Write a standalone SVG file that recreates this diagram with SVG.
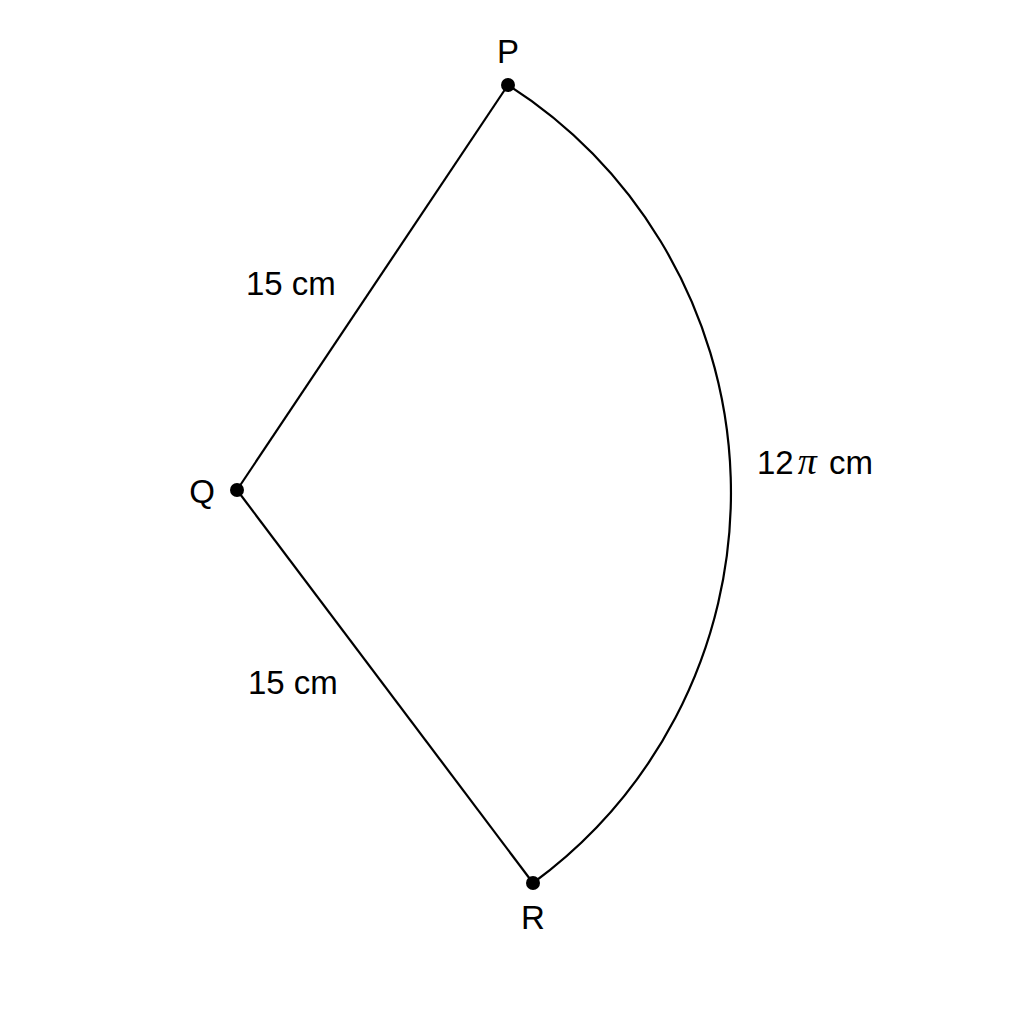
<svg xmlns="http://www.w3.org/2000/svg" width="1024" height="1024" viewBox="0 0 1024 1024">
<style>
.ln{fill:none;stroke:#000;stroke-width:2.2}
.pt{fill:#000}
.t{font-family:"Liberation Sans",Arial,sans-serif;font-size:33px;fill:#000}
</style>
<rect width="1024" height="1024" fill="#fff"/>
<g id="connectors">
<line class="ln" x1="508" y1="85" x2="237" y2="490"/>
<line class="ln" x1="237" y1="490" x2="533" y2="883"/>
<path class="ln" d="M508 85 A484 484 0 0 1 533 883"/>
</g>
<g id="P"><circle class="pt" cx="508" cy="85" r="7"/><text class="t" x="508" y="63" text-anchor="middle">P</text></g>
<g id="Q"><circle class="pt" cx="237" cy="490" r="7"/><text class="t" x="202" y="503" text-anchor="middle">Q</text></g>
<g id="R"><circle class="pt" cx="533" cy="883" r="7"/><text class="t" x="533" y="929" text-anchor="middle">R</text></g>
<g id="labels">
<text class="t" x="757" y="474">12<tspan dx="4" font-size="38" font-family="'Liberation Serif',serif" font-style="italic">π</tspan><tspan dx="3"> cm</tspan></text>
<text class="t" x="246" y="295">15 cm</text>
<text class="t" x="248" y="694">15 cm</text>
</g>
</svg>
